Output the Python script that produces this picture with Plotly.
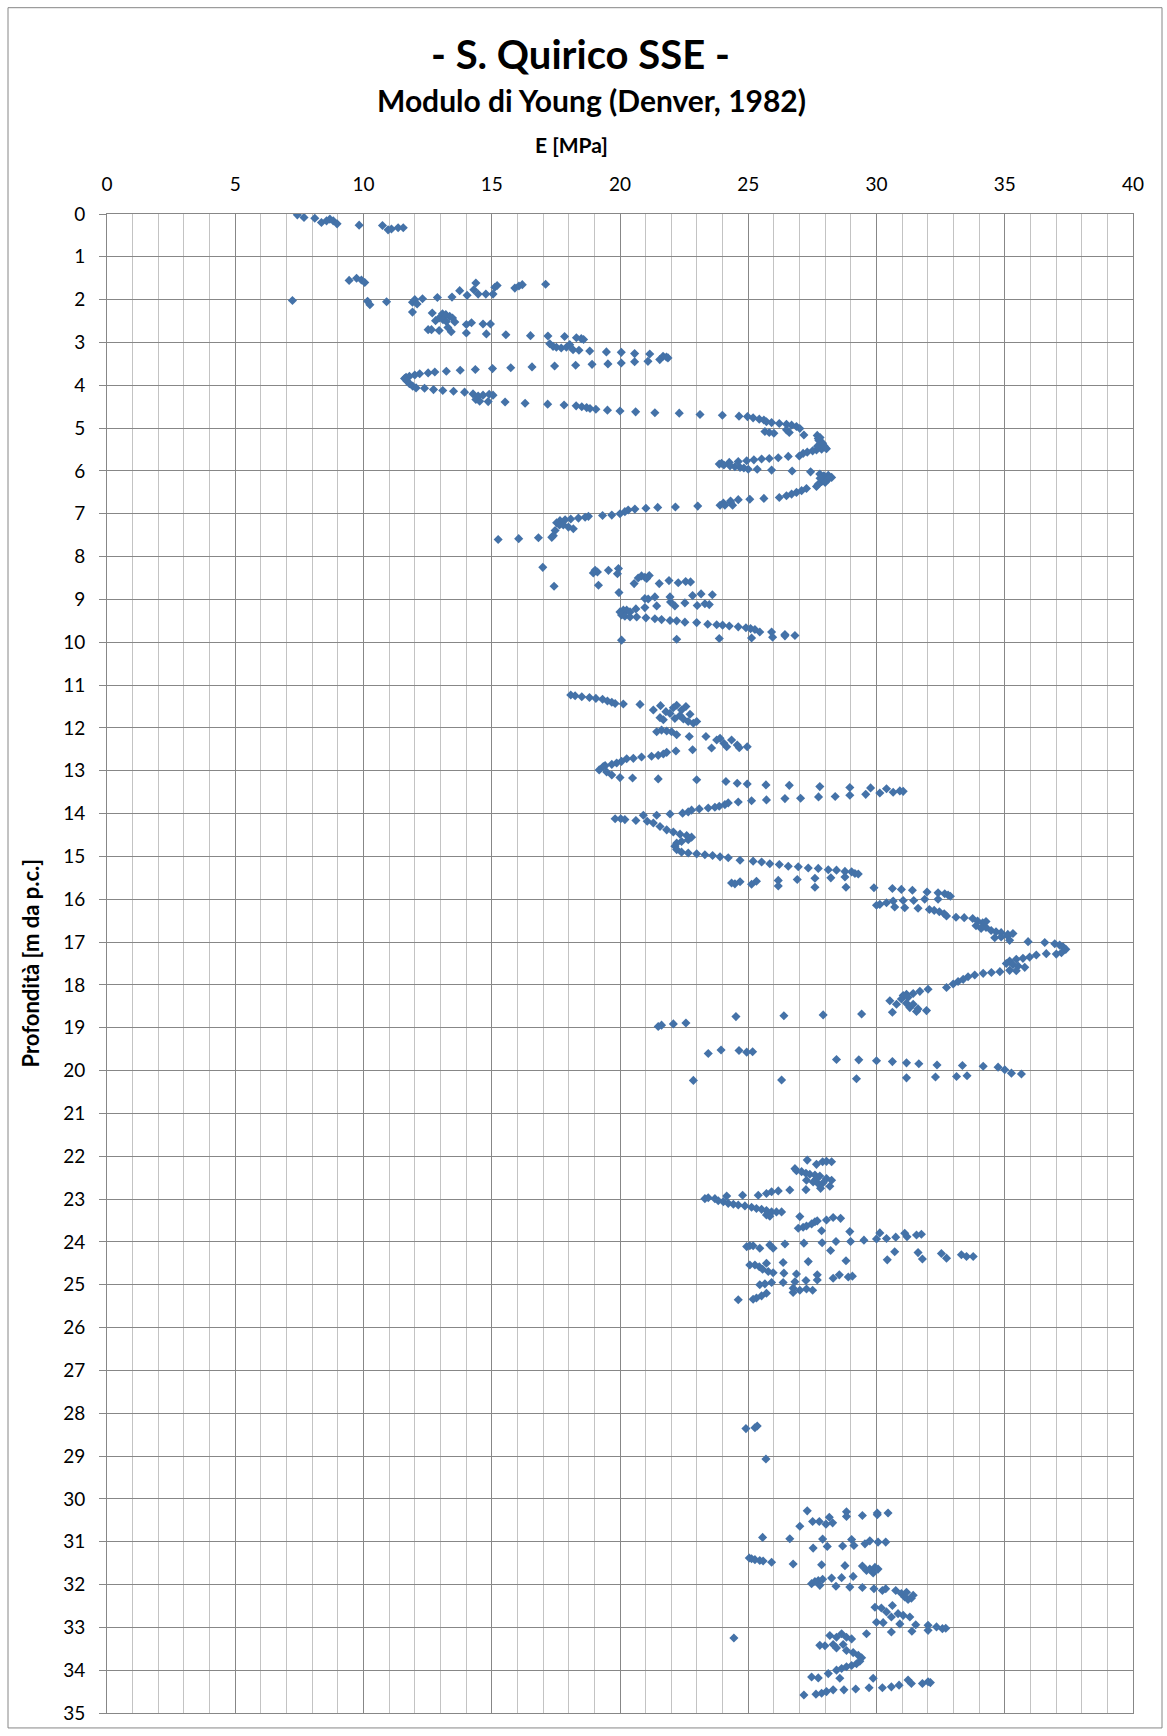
import plotly.graph_objects as go

# ---- data: (E [MPa], depth [m]) pairs, grouped by depth interval ----
pts_0_2 = [(7.42,0.02),(7.68,0.08),(8.10,0.10),(8.36,0.20),(8.56,0.16),(8.69,0.12),(8.82,0.16),(8.97,0.23),
           (9.83,0.26),(10.74,0.27),(10.96,0.37),(11.09,0.35),(11.35,0.32),(11.55,0.32),
           (9.44,1.55),(9.73,1.50),(9.92,1.54),(10.05,1.60),(7.23,2.02),(10.16,2.04),(10.25,2.12),(10.90,2.05),
           (11.91,2.06),(12.00,2.00),(12.09,2.10),(11.91,2.29),(12.30,1.98),(12.88,1.95),(13.45,1.94),(13.75,1.79),
           (14.04,1.90),(14.38,1.61),(14.30,1.77),(14.47,1.87),(14.77,1.87),(15.05,1.87),(15.12,1.71),(15.21,1.67),
           (15.90,1.73),(16.06,1.68),(16.19,1.65),(17.10,1.64)]

pts_2_5 = [(12.68,2.31),(12.81,2.49),(12.95,2.43),(13.08,2.33),(13.21,2.35),(13.36,2.39),(13.47,2.43),(13.56,2.52),
           (13.10,2.47),(13.23,2.51),(12.52,2.70),(12.65,2.70),(12.95,2.72),(13.29,2.65),(13.42,2.75),(14.01,2.58),
           (14.21,2.54),(14.01,2.78),(14.66,2.57),(14.95,2.57),(14.79,2.80),(15.55,2.82),(16.51,2.84),(17.19,2.85),
           (17.84,2.86),(18.30,2.89),(18.49,2.91),(18.58,2.93),
           (17.26,3.03),(17.39,3.09),(17.52,3.11),(17.71,3.13),(17.91,3.11),(18.04,3.05),(18.17,3.17),(18.40,3.18),
           (18.82,3.20),(19.47,3.22),(20.05,3.23),(20.57,3.26),(21.16,3.27),(21.55,3.40),(21.68,3.32),(21.81,3.34),
           (21.87,3.36),
           (20.05,3.48),(20.57,3.45),(21.09,3.44),(19.53,3.50),(18.91,3.51),(18.27,3.53),(17.45,3.55),(16.57,3.57),
           (15.74,3.59),(15.03,3.61),(14.36,3.63),(13.77,3.65),(13.23,3.67),(12.78,3.69),(12.52,3.71),(12.19,3.73),
           (12.00,3.76),(11.79,3.79),(11.66,3.81),(11.60,3.84),(11.69,3.90),(11.79,3.96),(11.92,4.02),(12.05,4.06),
           (12.38,4.07),(12.73,4.10),(13.09,4.12),(13.51,4.14),(13.94,4.16),(14.27,4.20),(14.47,4.25),(14.66,4.23),
           (14.90,4.21),(15.05,4.23),(14.38,4.33),(14.53,4.37),(14.86,4.38),(15.52,4.39)]

pts_4_8 = [(16.30,4.42),(17.18,4.44),(17.82,4.46),(18.29,4.48),(18.51,4.50),(18.70,4.52),(18.83,4.54),(19.06,4.56),
           (19.51,4.58),(20.00,4.60),(20.61,4.62),(21.36,4.64),(22.31,4.65),(23.12,4.68),(23.99,4.70),(24.64,4.72),
           (24.97,4.73),(25.19,4.76),(25.43,4.79),(25.61,4.81),(25.71,4.85),(25.91,4.87),(26.21,4.89),(26.49,4.91),
           (26.69,4.93),(26.88,4.96),(27.01,5.01),
           (25.65,5.08),(25.82,5.10),(26.00,5.12),(26.49,5.04),(26.60,5.10),(27.17,5.16),
           (27.69,5.17),(27.73,5.24),(27.79,5.30),(27.86,5.38),(27.95,5.41),(28.05,5.48),(27.86,5.49),(27.66,5.51),
           (27.80,5.22),(27.75,5.28),(27.90,5.35),(27.70,5.42),(28.00,5.45),
           (27.51,5.53),(27.30,5.56),(27.14,5.59),(26.99,5.65),
           (26.56,5.66),(26.17,5.69),(25.82,5.71),(25.52,5.72),(25.22,5.74),(24.94,5.76),(24.61,5.78),(24.26,5.80),
           (23.96,5.82),(23.87,5.84),
           (24.05,5.86),(24.29,5.88),(24.48,5.90),(24.68,5.92),(24.83,5.93),(25.00,5.96),(25.35,5.96),(25.91,5.98),
           (26.71,6.00),(27.43,6.02),
           (27.79,6.07),(27.95,6.11),(28.12,6.10),(28.25,6.15),(28.05,6.19),(27.86,6.25),(27.73,6.31),(27.66,6.36),
           (27.90,6.14),(28.10,6.20),(27.95,6.22),(28.15,6.17),(27.80,6.17),(28.00,6.27),
           (27.27,6.41),(27.08,6.46),(26.88,6.50),(26.69,6.54),(26.49,6.58),(26.21,6.62),(25.61,6.64),(25.06,6.66),
           (24.61,6.67),(24.31,6.70),(24.03,6.75),(23.90,6.80),(24.09,6.80),(24.31,6.73),(24.39,6.80),
           (23.03,6.82),(22.16,6.84),(21.47,6.85),(21.01,6.87),(20.58,6.89),(20.32,6.91),(20.19,6.95),(20.00,7.00),
           (19.68,7.03),(19.32,7.04),(18.77,7.06),(18.64,7.08),(18.38,7.10),(18.08,7.12),(17.86,7.14),(17.66,7.16),
           (17.53,7.21),(17.64,7.26),
           (17.79,7.26),(17.99,7.31),(18.18,7.35),(17.47,7.39),(17.40,7.51),(17.34,7.55),(16.82,7.56),(16.05,7.58),
           (15.25,7.60)]

pts_8_10 = [(16.99,8.25),(17.43,8.69),(19.03,8.32),(19.12,8.36),(18.96,8.38),(19.55,8.32),(19.94,8.28),(19.90,8.40),
            (19.16,8.67),(19.96,8.84),
            (20.55,8.63),(20.71,8.50),(20.84,8.45),(20.97,8.48),(21.14,8.44),(21.04,8.51),(21.53,8.63),(21.91,8.56),
            (22.27,8.61),(22.56,8.58),(22.75,8.59),
            (22.83,8.91),(23.16,8.87),(23.60,8.89),(20.97,8.98),(21.10,8.99),(21.36,8.94),(21.43,9.15),(20.97,9.19),
            (21.95,8.94),(21.97,9.06),(22.14,9.15),(22.53,9.08),(23.01,9.14),(23.31,9.10),(23.48,9.12),
            (20.00,9.29),(20.13,9.25),(20.26,9.25),(20.39,9.29),(20.62,9.22),(20.06,9.36),(20.19,9.39),(20.39,9.41),
            (20.65,9.41),
            (21.01,9.43),(21.36,9.45),(21.62,9.47),(21.95,9.49),(22.21,9.50),(22.53,9.53),(22.99,9.54),(23.42,9.58),
            (23.77,9.59),(24.00,9.60),(24.26,9.62),(24.61,9.64),(24.91,9.66),(25.09,9.68),(25.26,9.70),(25.45,9.76),
            (25.91,9.76),(26.43,9.82),(26.82,9.84),
            (25.95,9.88),(26.43,9.85),(25.13,9.90),(23.87,9.91),(22.21,9.93),(20.06,9.95)]

pts_11_15 = [(18.08,11.23),(18.25,11.25),(18.51,11.27),(18.81,11.29),(19.06,11.31),(19.32,11.33),(19.51,11.37),
             (19.68,11.40),(19.81,11.43),(20.13,11.44),(20.78,11.45),
             (21.30,11.58),(21.58,11.48),(21.79,11.62),(22.08,11.53),(22.21,11.47),(22.40,11.58),(22.57,11.50),
             (22.73,11.68),(21.56,11.76),(21.69,11.81),(21.95,11.66),(22.14,11.78),(22.34,11.71),(22.47,11.79),
             (22.66,11.85),(22.86,11.89),(22.99,11.85),
             (21.43,12.09),(21.62,12.05),(21.82,12.07),(22.01,12.09),(22.21,12.16),(22.70,12.20),
             (23.35,12.20),(23.57,12.47),(23.77,12.28),(23.90,12.24),(24.05,12.36),(24.16,12.44),(24.35,12.28),
             (24.57,12.40),(24.65,12.46),(24.96,12.44),
             (22.83,12.51),(22.18,12.54),(21.82,12.57),(21.69,12.61),(21.49,12.64),(21.23,12.66),(20.84,12.68),
             (20.52,12.71),(20.26,12.72),(20.06,12.78),(19.87,12.82),(19.68,12.85),(19.42,12.88),(19.19,12.98),
             (19.35,12.90),(19.48,13.03),(19.68,13.10),(20.00,13.16),
             (20.49,13.17),(21.49,13.19),(22.99,13.21),
             (24.13,13.25),(24.57,13.29),(24.96,13.31),(25.69,13.33),(26.60,13.34),(27.79,13.37),(28.96,13.39),
             (29.77,13.40),(30.39,13.42),(30.65,13.50),(30.91,13.47),(31.04,13.48),
             (30.13,13.52),(29.58,13.55),(28.96,13.57),(28.39,13.60),(27.74,13.61),(27.04,13.64),(26.43,13.65),
             (25.71,13.68),(25.13,13.70),(24.61,13.73),(24.22,13.75),(24.09,13.79),(23.87,13.83),(23.70,13.85),
             (23.44,13.87),(23.09,13.89),(22.79,13.92),(22.66,13.96),(22.44,13.99),(21.95,14.01),(21.43,14.04),
             (21.06,14.18),(20.91,14.04),(20.62,14.16),(20.19,14.14),(20.03,14.12),(19.81,14.12),
             (21.30,14.22),(21.56,14.30),(21.82,14.38),(22.08,14.43),(22.34,14.48),(22.60,14.51),(22.79,14.55),
             (22.66,14.61),(22.40,14.65),(22.21,14.69),(22.14,14.76),(22.21,14.84),(22.40,14.90),(22.66,14.92),
             (22.99,14.94),(23.31,14.96),(23.61,14.98),(23.90,15.01),(24.22,15.03),(24.68,15.09),(25.19,15.11),
             (25.52,15.13),(25.84,15.17),(26.21,15.19),(26.56,15.23),(26.95,15.24),(27.34,15.27),(27.73,15.28),
             (28.12,15.31),(28.44,15.32),(28.77,15.35),(29.03,15.36),(29.16,15.40),(29.29,15.41)]

pts_15_21 = [(24.35,15.62),(24.48,15.64),(24.68,15.59),(25.13,15.65),(25.32,15.58),(26.17,15.56),(26.17,15.69),
             (26.91,15.54),(27.60,15.51),(27.60,15.72),(28.22,15.50),(28.77,15.48),(28.81,15.72),
             (29.90,15.73),(30.62,15.75),(30.97,15.77),(31.40,15.79),(31.97,15.83),(32.40,15.85),(32.66,15.87),
             (32.79,15.90),(32.88,15.93),
             (32.40,16.00),(31.88,16.00),(31.45,16.03),(31.04,16.03),(30.65,16.04),(30.39,16.08),(30.13,16.12),
             (30.00,16.14),(30.71,16.18),(31.10,16.20),(31.62,16.21),
             (32.06,16.24),(32.25,16.26),(32.45,16.29),(32.64,16.34),(32.73,16.39),(33.10,16.42),(33.42,16.43),
             (33.75,16.45),(33.94,16.51),(34.14,16.55),(34.27,16.52),(33.88,16.62),(34.08,16.68),(34.27,16.66),
             (34.47,16.73),(34.66,16.76),(34.86,16.78),(35.12,16.82),(35.32,16.80),(34.61,16.90),(34.86,16.88),
             (35.12,16.86),(35.19,16.96),
             (35.91,16.99),(36.56,17.01),(36.95,17.04),(37.14,17.07),(37.27,17.11),(37.38,17.17),(37.21,17.25),
             (37.01,17.28),(36.62,17.27),(36.23,17.30),(35.97,17.35),(35.71,17.38),(35.45,17.40),(35.19,17.44),
             (35.06,17.50),(35.32,17.53),(35.52,17.56),(35.78,17.59),(35.45,17.67),(35.19,17.66),(34.81,17.69),
             (34.48,17.71),(34.16,17.73),(33.83,17.77),(33.57,17.81),(33.38,17.87),(33.18,17.92),(32.99,17.98),
             (32.73,18.06),
             (32.01,18.10),(31.69,18.15),(31.43,18.20),(31.17,18.22),(31.04,18.25),(30.52,18.37),(30.78,18.45),
             (31.17,18.43),(31.30,18.53),(31.56,18.62),(31.95,18.60),(30.62,18.64),(30.97,18.33),(31.23,18.29),
             (31.43,18.45),(31.62,18.56),
             (24.52,18.74),(26.39,18.72),(27.92,18.70),(29.42,18.68),
             (21.49,18.97),(21.62,18.94),(22.08,18.91),(22.57,18.89),
             (23.44,19.60),(23.94,19.52),(24.64,19.53),(24.94,19.57),(25.17,19.56),
             (28.44,19.74),(29.31,19.75),(30.00,19.77),(30.62,19.79),(31.17,19.82),(31.65,19.84),(32.36,19.87),
             (33.35,19.88),(34.16,19.90),(34.74,19.92),(35.00,19.98),(35.26,20.06),(35.65,20.08),
             (22.86,20.23),(26.30,20.22),(29.22,20.19),(31.17,20.17),(32.30,20.15),(33.12,20.14),(33.53,20.12)]

pts_22_26 = [(27.30,22.09),(27.66,22.19),(27.90,22.13),(28.05,22.12),(28.25,22.13),
             (26.82,22.29),(26.88,22.34),(27.08,22.36),(27.25,22.40),(27.40,22.42),(27.60,22.44),(27.79,22.46),
             (28.05,22.52),(28.25,22.56),(27.27,22.56),(27.53,22.60),(27.73,22.64),(27.92,22.62),(28.18,22.70),
             (27.25,22.78),(27.82,22.75),(27.64,22.54),
             (26.62,22.79),(26.17,22.81),(25.91,22.83),(25.71,22.87),(25.39,22.91),(24.78,22.91),(24.16,22.93),
             (23.31,22.99),(23.44,22.97),(23.70,22.99),(23.83,23.04),(24.03,23.06),(24.22,23.10),(24.42,23.12),
             (24.61,23.14),(24.87,23.16),(25.13,23.19),(25.32,23.22),(25.52,23.24),(25.71,23.27),(25.91,23.30),
             (26.10,23.30),(26.30,23.30),(25.71,23.37),(25.84,23.40),
             (27.01,23.41),(26.95,23.68),(27.14,23.66),(27.27,23.63),(27.47,23.58),(27.60,23.53),(27.69,23.51),
             (27.86,23.74),(28.05,23.49),(28.31,23.43),(28.60,23.45),(28.96,23.76),
             (24.94,24.11),(25.06,24.09),(25.19,24.09),(25.45,24.15),(25.84,24.07),(25.97,24.15),(26.43,24.05),
             (27.17,24.03),(27.88,24.02),(28.42,23.99),(28.99,23.99),(29.51,23.96),(30.00,23.93),(30.13,23.79),
             (30.39,23.92),(30.75,23.89),(31.10,23.80),(31.19,23.88),(31.56,23.84),(31.75,23.82),
             (28.21,24.20),(30.71,24.23),(30.42,24.42),(31.62,24.25),(31.79,24.40),(32.53,24.27),(32.73,24.38),
             (33.31,24.30),(33.51,24.34),(33.77,24.34),
             (25.06,24.54),(25.26,24.54),(25.43,24.58),(25.71,24.50),(25.56,24.64),(25.78,24.69),(25.97,24.72),
             (26.36,24.48),(26.39,24.73),(27.34,24.46),(28.81,24.44),
             (26.88,24.75),(27.25,24.90),(27.69,24.77),(27.69,24.89),(28.31,24.85),(28.55,24.77),(28.90,24.82),
             (29.06,24.80),
             (25.45,25.00),(25.65,24.98),(25.91,24.95),(26.36,24.95),(26.82,24.93),(26.75,25.08),(27.01,25.13),
             (27.27,25.10),(27.51,25.13),(25.71,25.20),(25.52,25.26),(25.32,25.31),(25.19,25.34),(24.61,25.35),
             (26.75,25.18)]

pts_28_35 = [(24.91,28.36),(25.26,28.34),(25.35,28.30),(25.69,29.07),
             (27.30,30.28),(27.51,30.53),(27.77,30.53),(28.03,30.59),(28.16,30.43),(28.29,30.56),(28.83,30.30),
             (28.83,30.41),(29.45,30.39),(30.03,30.33),(30.03,30.37),(30.45,30.33),
             (27.01,30.64),(27.90,30.94),(26.62,30.93),(25.56,30.90),(27.53,31.15),(28.08,31.11),(28.68,31.10),
             (29.03,30.95),(29.12,31.09),(29.55,31.05),(29.74,30.98),(30.06,31.01),(30.36,31.01),
             (25.04,31.38),(25.13,31.40),(25.26,31.42),(25.45,31.44),(25.58,31.45),(25.91,31.48),(26.75,31.52),
             (27.86,31.54),(28.77,31.56),(29.45,31.57),(29.61,31.67),(29.74,31.64),(29.94,31.60),(30.06,31.64),
             (29.87,31.73),
             (27.47,31.98),(27.60,31.93),(27.73,31.91),(27.90,31.88),(28.25,31.85),(28.64,31.84),(29.09,31.81),
             (27.79,32.02),(28.42,32.04),(28.96,32.06),(29.45,32.07),(29.90,32.10),
             (30.23,32.14),(30.36,32.10),(30.75,32.14),(30.97,32.21),(31.10,32.29),(31.23,32.35),(31.36,32.32),
             (31.43,32.25),(31.17,32.18),
             (29.94,32.53),(30.19,32.55),(30.62,32.49),(30.39,32.64),(30.58,32.76),(30.84,32.68),(31.04,32.72),
             (31.30,32.76),(30.00,32.88),(30.26,32.89),(30.91,32.92),(31.53,32.94),(32.01,32.95),(32.34,32.99),
             (32.57,33.03),(32.70,33.02),(30.58,33.11),(31.38,33.09),(32.01,33.07),
             (24.44,33.25),
             (28.18,33.19),(28.44,33.23),(28.64,33.15),(28.83,33.23),(29.03,33.27),(29.61,33.15),(27.79,33.42),
             (27.99,33.43),(28.31,33.40),(28.44,33.48),(28.70,33.40),(28.83,33.54),(29.09,33.59),(29.29,33.65),
             (29.42,33.71),(29.35,33.79),(29.22,33.85),(29.03,33.89),(28.83,33.92),(28.64,33.96),(28.44,34.00),
             (28.57,34.19),(28.12,34.08),(27.47,34.16),(27.73,34.18),(29.87,34.19),
             (27.17,34.58),(27.64,34.56),(27.86,34.54),(28.05,34.50),(28.31,34.46),(28.73,34.46),(29.19,34.44),
             (29.71,34.41),(30.23,34.41),(30.58,34.39),(30.88,34.35),(31.23,34.23),(31.36,34.31),(31.79,34.31),
             (32.01,34.27),(32.10,34.29)]

segments = [pts_0_2, pts_2_5, pts_4_8, pts_8_10, pts_11_15, pts_15_21, pts_22_26, pts_28_35]
E_vals = [p[0] for s in segments for p in s]
D_vals = [p[1] for s in segments for p in s]

x_ticks = [0, 5, 10, 15, 20, 25, 30, 35, 40]
y_ticks = list(range(0, 36))

title_main = "- S. Quirico SSE -"
title_sub = "Modulo di Young (Denver, 1982)"
x_title = "E [MPa]"
y_title = "Profondità [m da p.c.]"

# ---- layout geometry (pixels) ----
W, H = 1167, 1736
ML, MR, MT, MB = 107, 34, 214, 18
pw, ph = W - ML - MR, H - MT - MB

def px_x(px):
    return (px - ML) / pw

def px_y(py):
    return (H - MB - py) / ph

FONT = "Lato, Carlito, 'Open Sans', sans-serif"
MAJOR = "#878787"
MINOR = "#C3C3C3"

fig = go.Figure()
fig.add_trace(go.Scatter(
    x=E_vals, y=D_vals, mode="markers",
    marker=dict(symbol="diamond", size=7, color="#4472A8", line=dict(width=0)),
    showlegend=False, hoverinfo="x+y"))

fig.update_layout(
    width=W, height=H,
    margin=dict(l=ML, r=MR, t=MT, b=MB, pad=0),
    paper_bgcolor="white", plot_bgcolor="white",
    font=dict(family=FONT, color="#000000"),
    showlegend=False,
    xaxis=dict(
        side="top", range=[0, 40], tickvals=x_ticks, ticktext=[str(v) for v in x_ticks],
        showgrid=True, gridcolor=MAJOR, gridwidth=1,
        minor=dict(dtick=1, showgrid=True, gridcolor=MINOR, gridwidth=1),
        showline=True, linecolor=MAJOR, linewidth=1, mirror=True,
        ticks="", zeroline=False, tickfont=dict(size=19, family=FONT, color="#000"),
        ticklabelstandoff=14, fixedrange=True),
    yaxis=dict(
        range=[35, 0], tickvals=y_ticks, ticktext=[str(v) for v in y_ticks],
        showgrid=True, gridcolor=MAJOR, gridwidth=1,
        showline=True, linecolor=MAJOR, linewidth=1, mirror=True,
        ticks="outside", ticklen=7, tickcolor=MAJOR, tickwidth=1,
        zeroline=False, tickfont=dict(size=19, family=FONT, color="#000"),
        ticklabelstandoff=10, fixedrange=True),
    annotations=[
        dict(text="<b>%s</b>" % title_main, xref="paper", yref="paper", x=px_x(580), y=px_y(53),
             xanchor="center", yanchor="middle", showarrow=False, font=dict(size=40, family=FONT)),
        dict(text="<b>%s</b>" % title_sub, xref="paper", yref="paper", x=px_x(591), y=px_y(100),
             xanchor="center", yanchor="middle", showarrow=False, font=dict(size=30, family=FONT)),
        dict(text="<b>%s</b>" % x_title, xref="paper", yref="paper", x=px_x(571), y=px_y(144),
             xanchor="center", yanchor="middle", showarrow=False, font=dict(size=21, family=FONT)),
        dict(text="<b>%s</b>" % y_title, xref="paper", yref="paper", x=px_x(30), y=px_y(966),
             xanchor="center", yanchor="middle", textangle=-90, showarrow=False, font=dict(size=22, family=FONT)),
    ],
    shapes=[dict(type="rect", xref="paper", yref="paper",
                 x0=px_x(8), x1=px_x(1162), y0=px_y(1733), y1=px_y(7),
                 line=dict(color="#868686", width=1), fillcolor="rgba(0,0,0,0)", layer="below")],
)

fig.write_html("out.html", config={"displayModeBar": False})
